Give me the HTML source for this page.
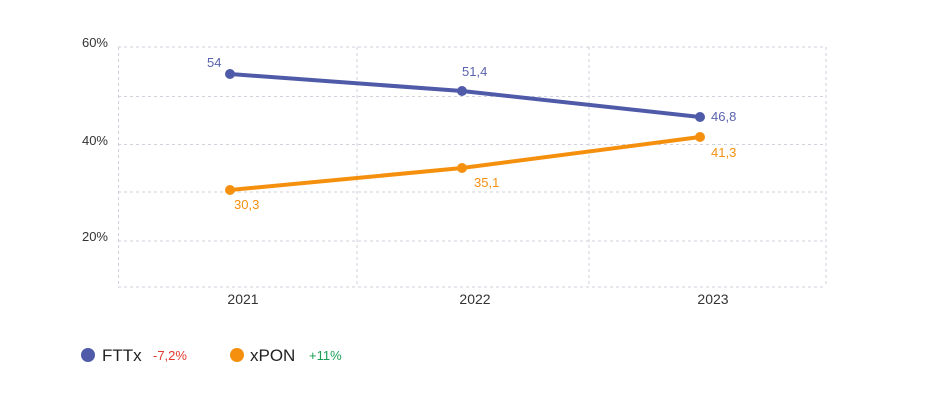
<!DOCTYPE html>
<html><head><meta charset="utf-8"><style>
html,body{margin:0;padding:0;background:#fff;width:925px;height:400px;overflow:hidden}
svg{display:block;font-family:"Liberation Sans",sans-serif}
</style></head><body>
<svg width="925" height="400" viewBox="0 0 925 400">
<g stroke="#cfd2dc" stroke-width="1" stroke-dasharray="3,3" fill="none">
<line x1="118" y1="47" x2="826" y2="47"/>
<line x1="118" y1="96.5" x2="826" y2="96.5"/>
<line x1="118" y1="144.5" x2="826" y2="144.5"/>
<line x1="118" y1="192" x2="826" y2="192"/>
<line x1="118" y1="241" x2="826" y2="241"/>
<line x1="118" y1="287" x2="826" y2="287"/>
<line x1="118.5" y1="47" x2="118.5" y2="287"/>
<line x1="357" y1="47" x2="357" y2="287"/>
<line x1="589" y1="47" x2="589" y2="287"/>
<line x1="826" y1="47" x2="826" y2="287"/>
</g>
<g font-size="13" fill="#333" text-anchor="end">
<text x="108" y="47">60%</text>
<text x="108" y="145">40%</text>
<text x="108" y="241">20%</text>
</g>
<g font-size="14" fill="#333" text-anchor="middle">
<text x="243" y="304">2021</text>
<text x="475" y="304">2022</text>
<text x="713" y="304">2023</text>
</g>
<polyline points="230,74 462,91 700,117" stroke="#4f5aa8" stroke-width="4" fill="none" stroke-linecap="round"/>
<polyline points="230,190 462,168 700,137" stroke="#f5900f" stroke-width="4" fill="none" stroke-linecap="round"/>
<g fill="#4f5aa8"><circle cx="230" cy="74" r="5"/><circle cx="462" cy="91" r="5"/><circle cx="700" cy="117" r="5"/></g>
<g fill="#f5900f"><circle cx="230" cy="190" r="5"/><circle cx="462" cy="168" r="5"/><circle cx="700" cy="137" r="5"/></g>
<g font-size="13" fill="#5a63ad">
<text x="207" y="67">54</text>
<text x="462" y="76">51,4</text>
<text x="711" y="121">46,8</text>
</g>
<g font-size="13" fill="#f5900f">
<text x="234" y="209">30,3</text>
<text x="474" y="187">35,1</text>
<text x="711" y="157">41,3</text>
</g>
<circle cx="88" cy="355" r="7" fill="#4f5aa8"/>
<text x="102" y="361" font-size="17" fill="#222">FTTx</text>
<text x="153" y="360" font-size="13" fill="#e03a2f">-7,2%</text>
<circle cx="237" cy="355" r="7" fill="#f5900f"/>
<text x="250" y="361" font-size="17" fill="#222">xPON</text>
<text x="309" y="360" font-size="13" fill="#1a9e55">+11%</text>
</svg>
</body></html>
